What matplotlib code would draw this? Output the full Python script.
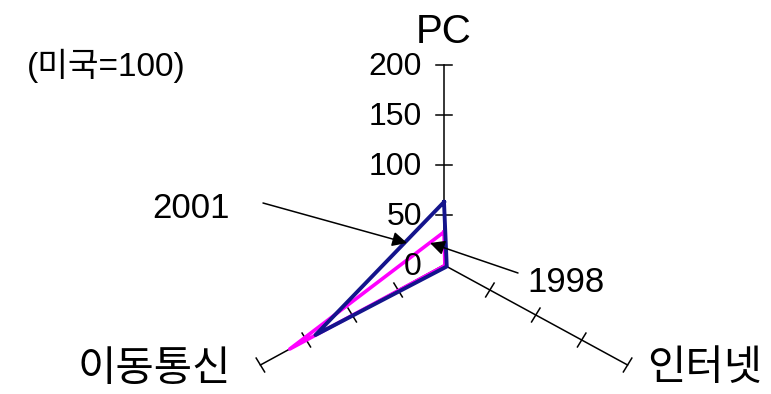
import numpy as np
import matplotlib
matplotlib.use("Agg")
import matplotlib.pyplot as plt

# data (US = 100)
axes_names = ['PC', '인터넷', '이동통신']
angles_deg = [90, -30, 210]
vals_1998 = [33, 1, 168]
vals_2001 = [63, 3, 140]
tick_vals = [0, 50, 100, 150, 200]
rmax = 200

plt.rcParams['font.family'] = ['Liberation Sans', 'Noto Sans CJK KR']

fig = plt.figure(figsize=(7.71, 3.94), dpi=100)
ax = fig.add_axes([0, 0, 1, 1])
# center of the web sits at about (444, 265) px
sx = 1.06
ax.set_xlim(-444 / sx, (771 - 444) / sx)
ax.set_ylim(-(394 - 265), 265)
ax.axis('off')

def xy(r, a):
    t = np.deg2rad(a)
    return r * np.cos(t), r * np.sin(t)

# axis lines with cross ticks
for a in angles_deg:
    x1, y1 = xy(rmax, a)
    ax.plot([0, x1], [0, y1], color='black', lw=1.1, zorder=1)
    t = np.deg2rad(a)
    px, py = -np.sin(t), np.cos(t)
    for v in tick_vals[1:]:
        cx, cy = xy(v, a)
        h = 8
        ax.plot([cx - px * h, cx + px * h], [cy - py * h, cy + py * h],
                color='black', lw=1.1, zorder=1)

# tick labels on PC axis
for v in tick_vals:
    ax.text(-22 / sx, v - 2, str(v), ha='right', va='center', fontsize=23)

def poly(vals):
    pts = [xy(v, a) for v, a in zip(vals, angles_deg)]
    pts.append(pts[0])
    return [p[0] for p in pts], [p[1] for p in pts]

x98, y98 = poly(vals_1998)
x01, y01 = poly(vals_2001)
ax.plot(x98, y98, color='#ff00ff', lw=2.6, zorder=2)
ax.plot(x01, y01, color='#14148c', lw=2.8, zorder=3)

# axis titles
ax.text(0, 233, 'PC', ha='center', va='center', fontsize=29)
ax.text(261 / sx, -104, '인터넷', ha='center', va='center', fontsize=30)
ax.text(-290 / sx, -105, '이동통신', ha='center', va='center', fontsize=30)
ax.text(-338 / sx, 199, '(미국=100)', ha='center', va='center', fontsize=24)

# year annotations
arrow = dict(arrowstyle='-|>', color='black', lw=1.1, mutation_scale=22,
             shrinkA=0, shrinkB=0)
ax.text(-253 / sx, 56, '2001', fontsize=25, ha='center', va='center')
ax.annotate('', xy=(-37 / sx, 22), xytext=(-181 / sx, 62), zorder=5,
            arrowprops=arrow)
ax.text(122 / sx, -17, '1998', fontsize=25, ha='center', va='center')
ax.annotate('', xy=(-14 / sx, 22), xytext=(74 / sx, -8), zorder=5,
            arrowprops=arrow)

plt.savefig('out.png', dpi=100)
